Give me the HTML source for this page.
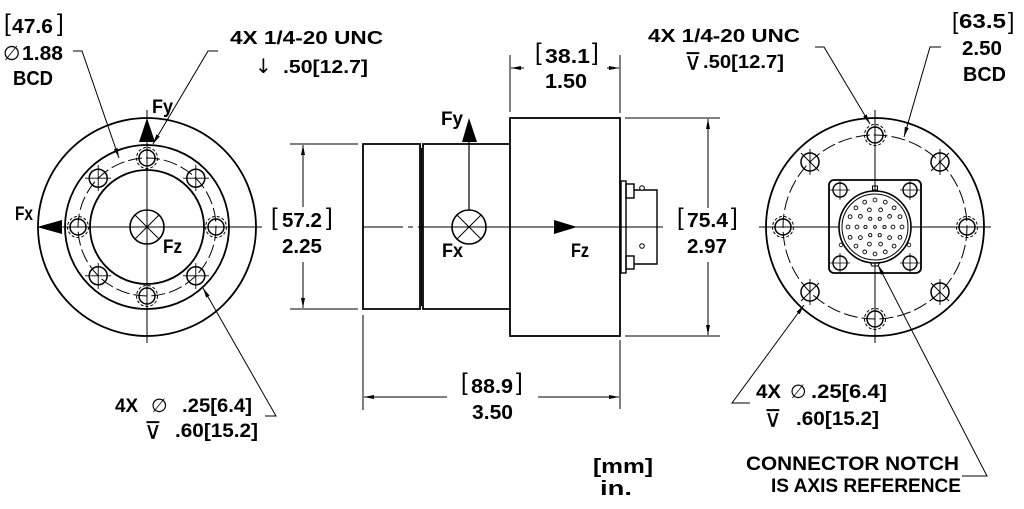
<!DOCTYPE html>
<html><head><meta charset="utf-8"><style>
html,body{margin:0;padding:0;background:#fff;}
svg{display:block;}
.t{font-family:"Liberation Sans",sans-serif;font-weight:bold;fill:#000;}
.s{font-family:"DejaVu Sans","Liberation Sans",sans-serif;font-weight:normal;fill:#000;}
.b{font-family:"Liberation Sans",sans-serif;font-weight:normal;fill:#000;}
</style></head><body>
<svg width="1024" height="509" viewBox="0 0 1024 509" xmlns="http://www.w3.org/2000/svg">
<defs>
<marker id="a" viewBox="0 0 10 4" refX="10" refY="2" markerWidth="10" markerHeight="4" markerUnits="userSpaceOnUse" orient="auto"><path d="M0,0 L10,2 L0,4z" fill="#000"/></marker>
</defs>
<rect width="1024" height="509" fill="#fff"/>

<!-- LEFT VIEW -->
<g fill="none" stroke="#000">
<circle cx="147" cy="227" r="109" stroke-width="1.8"/>
<circle cx="147" cy="227" r="82" stroke-width="1.8"/>
<circle cx="147" cy="227" r="69" stroke-width="1" stroke-dasharray="14 4"/>
<circle cx="147" cy="227" r="57" stroke-width="1.8"/>
<circle cx="147" cy="227" r="17" stroke-width="1.6"/>
<path d="M135,215 L159,239 M159,215 L135,239" stroke-width="1"/>
<path d="M37,227 H262 M147,110 V343" stroke-width="1"/>
<g stroke-width="1.5">
<circle cx="147" cy="158" r="8"/><circle cx="147" cy="296" r="8"/>
<circle cx="78" cy="227" r="8"/><circle cx="216" cy="227" r="8"/>
</g>
<g stroke-width="1" stroke-dasharray="3 2">
<circle cx="147" cy="158" r="10.5"/><circle cx="147" cy="296" r="10.5"/>
<circle cx="78" cy="227" r="10.5"/><circle cx="216" cy="227" r="10.5"/>
</g>
<g stroke-width="1.5">
<circle cx="98.2" cy="178.2" r="9"/><circle cx="195.8" cy="178.2" r="9"/>
<circle cx="98.2" cy="275.8" r="9"/><circle cx="195.8" cy="275.8" r="9"/>
</g>
<path d="M85,178.2 H111 M98.2,165 V191 M183,178.2 H209 M195.8,165 V191 M85,275.8 H111 M98.2,263 V289 M183,275.8 H209 M195.8,263 V289" stroke-width="0.9"/>
<g stroke-width="1">
<polyline points="73,51 82,51 119,158" marker-end="url(#a)"/>
<polyline points="218,51 208,51 153,144" marker-end="url(#a)"/>
<polyline points="265,416 276,416 203,288" marker-end="url(#a)"/>
</g>
</g>
<polygon points="147,118 139,142 155,142" fill="#000"/>
<polygon points="37,227 62,220 62,234" fill="#000"/>

<!-- MIDDLE VIEW -->
<g fill="none" stroke="#000">
<path d="M420,144 H363 V309 H420 Z" stroke-width="1.8"/>
<path d="M421.5,148 V306" stroke-width="1"/>
<path d="M510,144 H423 V309 H510" stroke-width="1.8"/>
<rect x="510" y="118" width="110" height="218" stroke-width="1.8"/>
<circle cx="469" cy="227" r="17" stroke-width="1.6"/>
<path d="M457,215 L481,239 M481,215 L457,239" stroke-width="1"/>
<path d="M469,210 V142" stroke-width="1.2"/>
<path d="M363,227 H403 M408,227 H413 M418,227 H663" stroke-width="1"/>
<rect x="621" y="181" width="5" height="92" stroke-width="1.4"/>
<rect x="626" y="184" width="8" height="14" stroke-width="1.4"/>
<rect x="626" y="256" width="8" height="13" stroke-width="1.4"/>
<path d="M634,190 H657 V264 H634" stroke-width="1.4"/>
<circle cx="642" cy="188" r="2.3" stroke-width="1" fill="#fff"/>
<circle cx="642" cy="246" r="2.3" stroke-width="1"/>
<g stroke-width="1">
<path d="M290,144 H358 M290,309 H358"/>
<path d="M303,207 V145" marker-end="url(#a)"/>
<path d="M303,262 V308" marker-end="url(#a)"/>
<path d="M510,55 V112 M620,55 V113"/>
<path d="M524,68 H511" marker-end="url(#a)"/>
<path d="M607,68 H619" marker-end="url(#a)"/>
<path d="M625,118 H720 M625,336 H720"/>
<path d="M708,208 V119" marker-end="url(#a)"/>
<path d="M708,262 V335" marker-end="url(#a)"/>
<path d="M363,315 V410 M620,340 V409"/>
<path d="M447,397 H364" marker-end="url(#a)"/>
<path d="M538,397 H619" marker-end="url(#a)"/>
</g>
</g>
<polygon points="469,118 462,142 477,142" fill="#000"/>
<polygon points="577,227 554,220 554,234" fill="#000"/>

<!-- RIGHT VIEW -->
<g fill="none" stroke="#000">
<circle cx="875" cy="227" r="109" stroke-width="1.8"/>
<circle cx="875" cy="227" r="92" stroke-width="1" stroke-dasharray="14 4"/>
<path d="M759,227 H991 M875,110 V343" stroke-width="1"/>
<g stroke-width="1.5">
<circle cx="875" cy="135" r="8"/><circle cx="875" cy="319" r="8"/>
<circle cx="783" cy="227" r="8"/><circle cx="967" cy="227" r="8"/>
</g>
<g stroke-width="1" stroke-dasharray="3 2">
<circle cx="875" cy="135" r="10.5"/><circle cx="875" cy="319" r="10.5"/>
<circle cx="783" cy="227" r="10.5"/><circle cx="967" cy="227" r="10.5"/>
</g>
<g stroke-width="1.5">
<circle cx="810" cy="162" r="9"/><circle cx="940" cy="162" r="9"/>
<circle cx="810" cy="292" r="9"/><circle cx="940" cy="292" r="9"/>
</g>
<path d="M801,153 L819,171 M949,153 L931,171 M801,301 L819,283 M949,301 L931,283 M810,149 V175 M940,149 V175 M810,279 V305 M940,279 V305" stroke-width="0.9"/>
<rect x="829" y="180" width="92" height="93" rx="5" stroke-width="1.8" fill="#fff"/>
<path d="M829,227 H921 M875,180 V273" stroke-width="1"/>
<g stroke-width="1.4">
<circle cx="840" cy="190" r="7"/><circle cx="910" cy="190" r="7"/>
<circle cx="840" cy="263" r="7"/><circle cx="910" cy="263" r="7"/>
</g>
<path d="M830,190 H850 M840,180 V200 M900,190 H920 M910,180 V200 M830,263 H850 M840,253 V273 M900,263 H920 M910,253 V273" stroke-width="0.8"/>
<circle cx="875" cy="227" r="36" stroke-width="1.6" fill="#fff"/>
<circle cx="875" cy="227" r="33" stroke-width="1"/>
<rect x="872.5" y="186" width="5" height="4" stroke-width="1"/>
<path d="M870,262 L872,266 H878 L880,262" stroke-width="1"/>
<circle cx="841" cy="245" r="1.8" stroke-width="0.8"/>
<circle cx="909" cy="245" r="1.8" stroke-width="0.8"/>
<g stroke-width="0.9">
<circle cx="902" cy="227" r="1.9"/><circle cx="899.9" cy="237.3" r="1.9"/><circle cx="894.1" cy="246.1" r="1.9"/><circle cx="885.3" cy="251.9" r="1.9"/>
<circle cx="875" cy="254" r="1.9"/><circle cx="864.7" cy="251.9" r="1.9"/><circle cx="855.9" cy="246.1" r="1.9"/><circle cx="850.1" cy="237.3" r="1.9"/>
<circle cx="848" cy="227" r="1.9"/><circle cx="850.1" cy="216.7" r="1.9"/><circle cx="855.9" cy="207.9" r="1.9"/><circle cx="864.7" cy="202.1" r="1.9"/>
<circle cx="875" cy="200" r="1.9"/><circle cx="885.3" cy="202.1" r="1.9"/><circle cx="894.1" cy="207.9" r="1.9"/><circle cx="899.9" cy="216.7" r="1.9"/>
<circle cx="893" cy="227" r="1.9"/><circle cx="889.6" cy="237.6" r="1.9"/><circle cx="880.6" cy="244.1" r="1.9"/><circle cx="869.4" cy="244.1" r="1.9"/>
<circle cx="860.4" cy="237.6" r="1.9"/><circle cx="857" cy="227" r="1.9"/><circle cx="860.4" cy="216.4" r="1.9"/><circle cx="869.4" cy="209.9" r="1.9"/>
<circle cx="880.6" cy="209.9" r="1.9"/><circle cx="889.6" cy="216.4" r="1.9"/>
<circle cx="884.5" cy="227" r="1.6"/><circle cx="879.75" cy="235.2" r="1.6"/><circle cx="870.25" cy="235.2" r="1.6"/>
<circle cx="865.5" cy="227" r="1.6"/><circle cx="870.25" cy="218.8" r="1.6"/><circle cx="879.75" cy="218.8" r="1.6"/>
<circle cx="875" cy="227" r="1.4"/>
</g>
<g stroke-width="1">
<polyline points="815,47 824,47 870,124" marker-end="url(#a)"/>
<polyline points="941,47 930,47 904,137" marker-end="url(#a)"/>
<polyline points="750,403 732,403 804,305" marker-end="url(#a)"/>
<polyline points="962,476 987,476 878,265" marker-end="url(#a)"/>
</g>
</g>

<!-- TEXT LEFT -->
<text class="b" x="4" y="31" font-size="24">[</text>
<text class="t" x="12" y="33" font-size="20" textLength="41" lengthAdjust="spacingAndGlyphs">47.6</text>
<text class="b" x="57" y="31" font-size="24">]</text>
<text class="s" x="3" y="60" font-size="20">∅</text>
<text class="t" x="22" y="60" font-size="20" textLength="41" lengthAdjust="spacingAndGlyphs">1.88</text>
<text class="t" x="13" y="85" font-size="20" textLength="40" lengthAdjust="spacingAndGlyphs">BCD</text>

<text class="t" x="230" y="44" font-size="18" textLength="153" lengthAdjust="spacingAndGlyphs">4X 1/4-20 UNC</text>
<text class="s" x="255" y="73" font-size="20">↓</text>
<text class="t" x="283" y="73" font-size="18" textLength="85" lengthAdjust="spacingAndGlyphs">.50[12.7]</text>

<text class="t" x="152" y="113" font-size="19" textLength="21" lengthAdjust="spacingAndGlyphs">Fy</text>
<text class="t" x="15" y="220" font-size="19" textLength="18" lengthAdjust="spacingAndGlyphs">Fx</text>
<text class="t" x="163" y="253" font-size="19" textLength="19" lengthAdjust="spacingAndGlyphs">Fz</text>

<text class="t" x="115" y="412" font-size="19" textLength="23" lengthAdjust="spacingAndGlyphs">4X</text>
<text class="s" x="151" y="412" font-size="19">∅</text>
<text class="t" x="182" y="412" font-size="19" textLength="70" lengthAdjust="spacingAndGlyphs">.25[6.4]</text>
<text class="s" x="144" y="439" font-size="24">⊽</text>
<text class="t" x="175" y="437" font-size="19" textLength="83" lengthAdjust="spacingAndGlyphs">.60[15.2]</text>

<!-- TEXT MIDDLE -->
<text class="b" x="271" y="225" font-size="24">[</text>
<text class="t" x="282" y="227" font-size="20" textLength="40" lengthAdjust="spacingAndGlyphs">57.2</text>
<text class="b" x="326" y="225" font-size="24">]</text>
<text class="t" x="282" y="253" font-size="20" textLength="40" lengthAdjust="spacingAndGlyphs">2.25</text>

<text class="b" x="535" y="60" font-size="24">[</text>
<text class="t" x="545" y="63" font-size="20" textLength="45" lengthAdjust="spacingAndGlyphs">38.1</text>
<text class="b" x="592" y="60" font-size="24">]</text>
<text class="t" x="545" y="88" font-size="20" textLength="42" lengthAdjust="spacingAndGlyphs">1.50</text>

<text class="t" x="441" y="125" font-size="19" textLength="22" lengthAdjust="spacingAndGlyphs">Fy</text>
<text class="t" x="442" y="257" font-size="19" textLength="21" lengthAdjust="spacingAndGlyphs">Fx</text>
<text class="t" x="571" y="257" font-size="19" textLength="18" lengthAdjust="spacingAndGlyphs">Fz</text>

<text class="b" x="677" y="225" font-size="24">[</text>
<text class="t" x="687" y="227" font-size="20" textLength="41" lengthAdjust="spacingAndGlyphs">75.4</text>
<text class="b" x="731" y="225" font-size="24">]</text>
<text class="t" x="687" y="253" font-size="20" textLength="40" lengthAdjust="spacingAndGlyphs">2.97</text>

<text class="b" x="461" y="390" font-size="24">[</text>
<text class="t" x="471" y="393" font-size="20" textLength="42" lengthAdjust="spacingAndGlyphs">88.9</text>
<text class="b" x="516" y="390" font-size="24">]</text>
<text class="t" x="472" y="419" font-size="20" textLength="41" lengthAdjust="spacingAndGlyphs">3.50</text>

<text class="t" x="593" y="473" font-size="20" textLength="60" lengthAdjust="spacingAndGlyphs">[mm]</text>
<text class="t" x="600" y="495" font-size="20" textLength="32" lengthAdjust="spacingAndGlyphs">in.</text>

<!-- TEXT RIGHT -->
<text class="t" x="648" y="42" font-size="18" textLength="152" lengthAdjust="spacingAndGlyphs">4X 1/4-20 UNC</text>
<text class="s" x="684" y="70" font-size="24">⊽</text>
<text class="t" x="703" y="68" font-size="18" textLength="81" lengthAdjust="spacingAndGlyphs">.50[12.7]</text>

<text class="b" x="952" y="29" font-size="23">[</text>
<text class="t" x="959" y="28" font-size="20" textLength="47" lengthAdjust="spacingAndGlyphs">63.5</text>
<text class="b" x="1008" y="29" font-size="23">]</text>
<text class="t" x="962" y="55" font-size="20" textLength="40" lengthAdjust="spacingAndGlyphs">2.50</text>
<text class="t" x="963" y="81" font-size="20" textLength="43" lengthAdjust="spacingAndGlyphs">BCD</text>

<text class="t" x="756" y="398" font-size="19" textLength="25" lengthAdjust="spacingAndGlyphs">4X</text>
<text class="s" x="790" y="398" font-size="19">∅</text>
<text class="t" x="811" y="398" font-size="19" textLength="76" lengthAdjust="spacingAndGlyphs">.25[6.4]</text>
<text class="s" x="764" y="427" font-size="24">⊽</text>
<text class="t" x="796" y="425" font-size="19" textLength="83" lengthAdjust="spacingAndGlyphs">.60[15.2]</text>

<text class="t" x="746" y="470" font-size="19" textLength="213" lengthAdjust="spacingAndGlyphs">CONNECTOR NOTCH</text>
<text class="t" x="771" y="492" font-size="19" textLength="190" lengthAdjust="spacingAndGlyphs">IS AXIS REFERENCE</text>
</svg>
</body></html>
